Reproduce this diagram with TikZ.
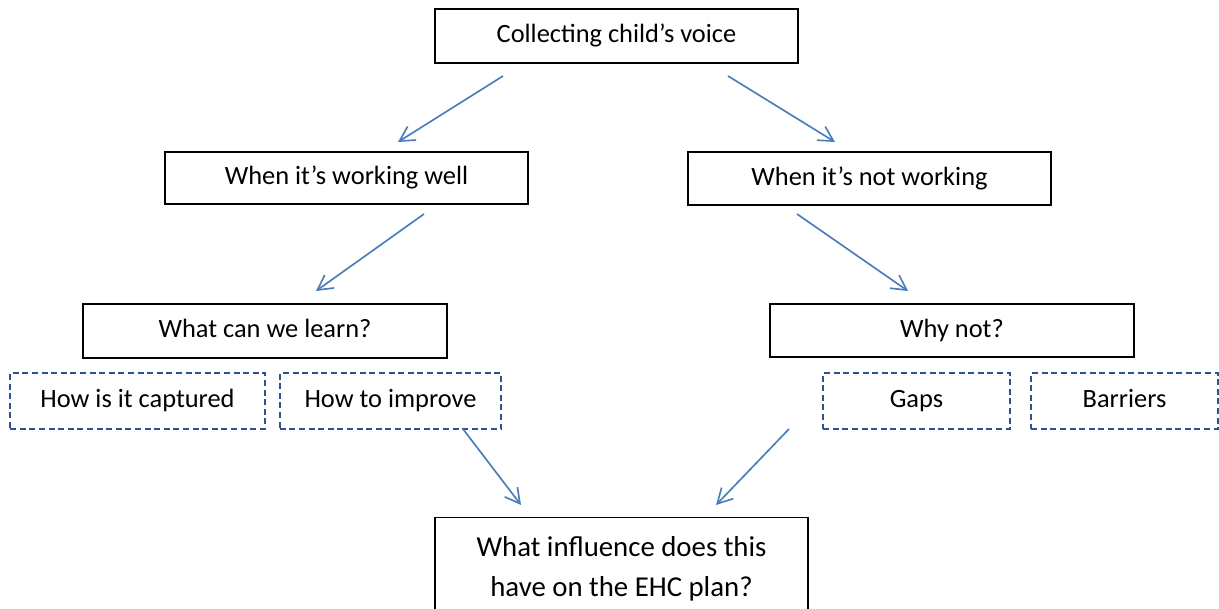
\documentclass[tikz,border=0pt]{standalone}
\usepackage{fontspec}
\setmainfont{Carlito}
\usetikzlibrary{arrows.meta}
\definecolor{arrowblue}{RGB}{74,126,187}
\definecolor{dashblue}{RGB}{47,82,143}
\tikzset{
    box/.style={draw=black,line width=1.1pt,font=\fontsize{19.8}{24}\selectfont,inner sep=0pt,text height=13.5pt,text depth=3.5pt},
    dbox/.style={draw=dashblue,line width=1.2pt,dash pattern=on 4.5pt off 2.7pt,font=\fontsize{19.8}{24}\selectfont,inner sep=0pt,text height=13.5pt,text depth=3.5pt},
    arr/.style={draw=arrowblue,line width=1.25pt,-{Straight Barb[length=11pt,width=12pt,line width=1.25pt]}}
}
\begin{document}
\begin{tikzpicture}[x=0.75pt,y=-0.75pt]
            \useasboundingbox (0,0) rectangle (1219,609);
            \node[box,minimum width=272pt,minimum height=40.5pt] at (616.5,36) (voice) {Collecting child’s voice};
            \node[box,minimum width=272pt,minimum height=39pt] at (346.5,178) (well) {When it’s working well};
            \node[box,minimum width=272pt,minimum height=39.75pt] at (869.5,178.5) (notw) {When it’s not working};
            \node[box,minimum width=273pt,minimum height=40.5pt] at (265,331) (learn) {What can we learn?};
            \node[box,minimum width=273pt,minimum height=39.75pt] at (952,330.5) (whynot) {Why not?};
            \node[dbox,minimum width=191pt,minimum height=42pt] at (137.5,401) (captured) {How is it captured};
            \node[dbox,minimum width=166pt,minimum height=42pt] at (390.5,401) (improve) {How to improve};
            \node[dbox,minimum width=140pt,minimum height=42pt] at (916.5,401) (gaps) {Gaps};
            \node[dbox,minimum width=140pt,minimum height=42pt] at (1124.5,401) (barriers) {Barriers};
            \node[box,anchor=north,minimum width=280pt,inner ysep=14pt,align=center,text height=,text depth=,font=\fontsize{21.6}{30}\selectfont] at (621.5,517) (ehc) {What influence does this\\have on the EHC plan?};
            \coordinate (s1) at (503,76);
            \coordinate (e1) at (398,142);
            \coordinate (s2) at (728,76);
            \coordinate (e2) at (835,142);
            \coordinate (s3) at (424,214);
            \coordinate (e3) at (316,291);
            \coordinate (s4) at (797,214);
            \coordinate (e4) at (908,291);
            \coordinate (s5) at (463,429);
            \coordinate (e5) at (521,505);
            \coordinate (s6) at (789,429);
            \coordinate (e6) at (716,505);
            \draw[arr] (s1) to (e1);
            \draw[arr] (s2) to (e2);
            \draw[arr] (s3) to (e3);
            \draw[arr] (s4) to (e4);
            \draw[arr] (s5) to (e5);
            \draw[arr] (s6) to (e6);
        \end{tikzpicture}
\end{document}
